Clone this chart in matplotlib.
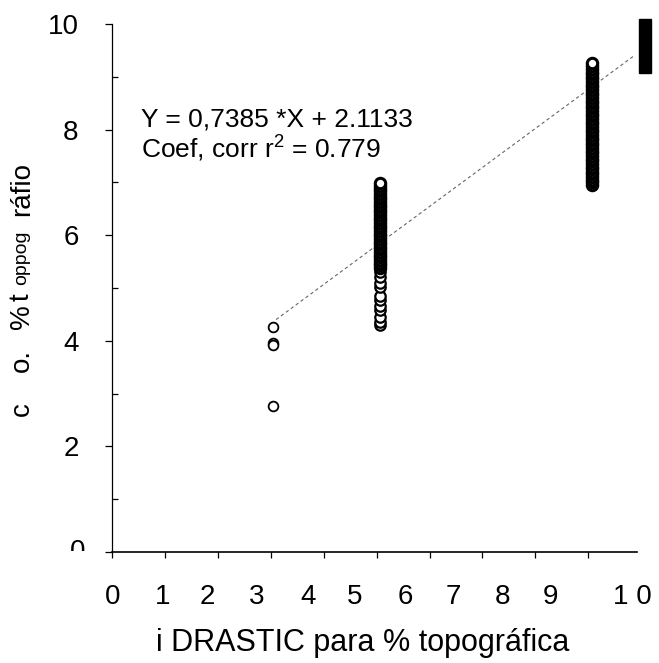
import matplotlib
matplotlib.use("Agg")
import matplotlib.pyplot as plt
from matplotlib.patches import Rectangle
from matplotlib.transforms import Bbox, TransformedBbox

plt.rcParams["font.family"] = ["Liberation Sans", "DejaVu Sans"]

# scanned data columns (DRASTIC index vs topographic %)
x_low = [3.05, 3.05, 3.05, 3.05]
y_low = [4.27, 3.95, 3.92, 2.77]

x_mid = 5.06
y_mid = [4.30, 4.36, 4.45, 4.58, 4.65, 4.77, 4.85, 5.02, 5.10, 5.21, 5.30,
         5.38, 5.43, 5.48, 5.53, 5.58, 5.63, 5.68, 5.73, 5.78, 5.83, 5.88,
         5.93, 5.98, 6.03, 6.08, 6.13, 6.18, 6.23, 6.28, 6.33, 6.38, 6.43,
         6.48, 6.53, 6.58, 6.63, 6.68, 6.73, 6.78, 6.83, 6.88, 6.93, 6.99]

x_high = 9.07
y_high = [6.95, 7.00, 7.05, 7.10, 7.15, 7.20, 7.25, 7.30, 7.35, 7.40, 7.45,
          7.50, 7.55, 7.60, 7.65, 7.70, 7.75, 7.80, 7.85, 7.90, 7.95, 8.00,
          8.05, 8.10, 8.15, 8.20, 8.25, 8.30, 8.35, 8.40, 8.45, 8.50, 8.55,
          8.60, 8.65, 8.70, 8.75, 8.80, 8.85, 8.90, 8.95, 9.00, 9.05, 9.10,
          9.15, 9.20, 9.26]

slope, intercept = 0.7385, 2.1133
fit_x = [3.1, 9.85]

x_ticklabels = ["0", "1", "2", "3", "4", "5", "6", "7", "8", "9", "1 0"]
x_labelpos = [0.02, 0.95, 1.81, 2.74, 3.71, 4.59, 5.54, 6.45, 7.37, 8.28, 9.83]

fig = plt.figure(figsize=(6.59, 6.63), dpi=100)
ax = fig.add_axes([112 / 659, 1 - 552 / 663, 525 / 659, 528 / 663])

mk = dict(marker="o", ms=7.5, mfc="white", mec="black", mew=2.2, ls="none")
ax.plot(x_low, y_low, **dict(mk, mew=1.3, ms=7))
ax.plot([x_mid] * 11, y_mid[:11], **dict(mk, mew=1.6))
ax.plot([x_mid] * (len(y_mid) - 11), y_mid[11:], **mk)
ax.plot([x_high] * len(y_high), y_high, **mk)

ax.plot(fit_x, [slope * v + intercept for v in fit_x],
        color="0.4", lw=0.8, ls=(0, (3, 2.5)), zorder=1)

ax.set_xlim(0, 9.92)
ax.set_ylim(0, 10)
for s in ("top", "right"):
    ax.spines[s].set_visible(False)
ax.spines["left"].set_linewidth(0.9)
ax.spines["bottom"].set_linewidth(1.2)

# x: marks at integers, labels where the scan put them
ax.set_xticks(range(10), minor=True)
ax.set_xticks(x_labelpos)
ax.set_xticklabels(x_ticklabels, fontsize=20)
ax.tick_params(axis="x", which="major", length=0, pad=23)
ax.tick_params(axis="x", which="minor", direction="out", length=4, width=0.9)

ax.set_yticks([0, 2, 4, 6, 8, 10])
ax.set_yticklabels(["", "2", "4", "6", "8", "10"], fontsize=20)
ax.set_yticks([1, 3, 5, 7, 9], minor=True)
ax.tick_params(axis="y", which="major", direction="out", length=5,
               width=0.9, pad=19)
ax.tick_params(axis="y", which="minor", direction="in", length=4, width=0.9)

# the "0" on the y axis is cut in half in the scan
clip = TransformedBbox(Bbox([[0, 1 - 551 / 663], [0.2, 1]]), fig.transFigure)
t0 = fig.text(85 / 659, 1 - 552 / 663, "0", fontsize=20, ha="right",
              va="center")
t0.set_clip_box(clip)
t0.set_clip_on(True)

ax.set_xlabel("i DRASTIC para % topográfica", fontsize=22)
ax.xaxis.set_label_coords((363 - 112) / 525, -(628 - 552) / 528)

# y label came out of the scan in pieces, with mixed sizes
ylab_parts = [("c", 20, 416), ("o.", 20, 372), ("%", 20, 329),
              ("t", 20, 301), ("oppog", 14, 285), ("ráfio", 20, 216)]
for txt, size, ypix in ylab_parts:
    fig.text(22 / 659, 1 - ypix / 663, txt, fontsize=size, rotation=90,
             ha="center", va="bottom")

ax.text(0.055, 0.735, "Y = 0,7385 *X + 2.1133\nCoef, corr $\\mathregular{r^2}$ = 0.779",
        transform=ax.transAxes, fontsize=19, va="bottom", ha="left",
        linespacing=1.1)

fig.patches.append(Rectangle((639 / 659, 1 - 73 / 663), 12 / 659, 54 / 663,
                             transform=fig.transFigure, color="black"))

fig.savefig("out.png", dpi=100)
